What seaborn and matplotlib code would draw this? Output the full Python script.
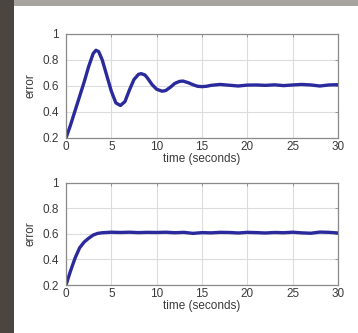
import numpy as np
import pandas as pd
import matplotlib
matplotlib.use("Agg")
import matplotlib.pyplot as plt
from matplotlib.patches import Rectangle
import seaborn as sns

# top response (oscillating)
t_top = [0, 0.5, 1.0, 1.5, 2.0, 2.5, 3.0, 3.3, 3.6, 4.0, 4.5, 5.0, 5.5, 6.0, 6.5,
         7.0, 7.5, 8.0, 8.3, 8.7, 9.0, 9.5, 10.0, 10.6, 11.0, 11.5, 12.0, 12.5,
         12.9, 13.5, 14.0, 14.5, 15.0, 15.5, 16, 17, 18, 19, 20, 21, 22, 23, 24,
         25, 26, 27, 28, 29, 30]
err_top = [0.20, 0.30, 0.41, 0.52, 0.63, 0.75, 0.85, 0.875, 0.865, 0.80, 0.68, 0.56,
           0.47, 0.45, 0.48, 0.57, 0.65, 0.69, 0.695, 0.685, 0.66, 0.61, 0.575, 0.56,
           0.565, 0.59, 0.62, 0.635, 0.638, 0.625, 0.61, 0.598, 0.595, 0.598, 0.605,
           0.612, 0.606, 0.60, 0.607, 0.608, 0.605, 0.609, 0.603, 0.608, 0.612,
           0.608, 0.60, 0.608, 0.61]

# bottom response (no overshoot)
t_bot = [0, 0.5, 1.0, 1.5, 2.0, 2.5, 3.0, 3.5, 4.0, 5, 6, 7, 8, 9, 10, 11, 12, 13,
         14, 15, 16, 17, 18, 19, 20, 21, 22, 23, 24, 25, 26, 27, 28, 29, 30]
err_bot = [0.20, 0.31, 0.41, 0.49, 0.535, 0.565, 0.59, 0.603, 0.608, 0.612, 0.61,
           0.612, 0.609, 0.611, 0.61, 0.612, 0.608, 0.611, 0.603, 0.609, 0.607,
           0.611, 0.61, 0.606, 0.611, 0.609, 0.606, 0.61, 0.608, 0.612, 0.607,
           0.604, 0.613, 0.611, 0.606]

x_ticks = [0, 5, 10, 15, 20, 25, 30]
y_ticks = [0.2, 0.4, 0.6, 0.8, 1.0]
y_labels = ["0.2", "0.4", "0.6", "0.8", "1"]

sns.set_style("white")
plt.rcParams['font.family'] = ['Liberation Sans', 'DejaVu Sans']

fig = plt.figure(figsize=(3.58, 3.33), dpi=100)
fig.patch.set_facecolor("white")
# photo-like border: grey strip on top, dark strip at left
fig.patches.append(Rectangle((0, 1 - 6 / 333), 1, 6 / 333, transform=fig.transFigure,
                             facecolor="#a7a39f", edgecolor="none", zorder=0))
fig.patches.append(Rectangle((0, 0), 14 / 358, 1, transform=fig.transFigure,
                             facecolor="#4a4540", edgecolor="none", zorder=0))

ax1 = fig.add_axes([66 / 358, 1 - 138 / 333, 272 / 358, 104 / 333])
ax2 = fig.add_axes([66 / 358, 1 - 285 / 333, 272 / 358, 102.5 / 333])

df_top = pd.DataFrame({"t": t_top, "e": err_top})
df_bot = pd.DataFrame({"t": t_bot, "e": err_bot})

for ax, df in [(ax1, df_top), (ax2, df_bot)]:
    sns.lineplot(data=df, x="t", y="e", ax=ax, color="#2a2a9c", linewidth=2.4,
                 solid_capstyle="round", solid_joinstyle="round")
    ax.set_xlim(0, 30)
    ax.set_ylim(0.2, 1)
    ax.set_xticks(x_ticks)
    ax.set_yticks(y_ticks)
    ax.set_yticklabels(y_labels)
    ax.grid(True, color="#dcdcdc", linewidth=0.8)
    ax.set_axisbelow(True)
    for s in ax.spines.values():
        s.set_color("#8a8a8a")
        s.set_linewidth(0.9)
    ax.tick_params(direction="in", length=2.5, width=0.6, color="#8a8a8a",
                   labelsize=8.5, labelcolor="#3a3a3a", top=True, right=True)
    ax.tick_params(axis="x", pad=2)
    ax.tick_params(axis="y", pad=5)
    ax.set_xlabel("time (seconds)", fontsize=8.5, color="#3a3a3a", labelpad=0)
    ax.set_ylabel("error", fontsize=8.5, color="#3a3a3a", labelpad=4)

fig.savefig("out.png", dpi=100, facecolor=fig.get_facecolor())
